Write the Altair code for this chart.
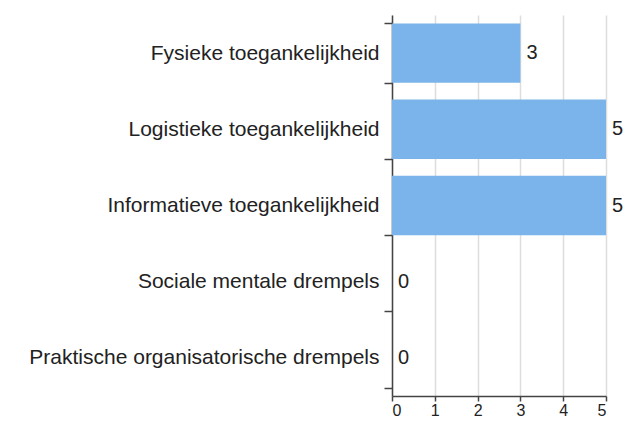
import altair as alt
import pandas as pd

categories = [
    "Fysieke toegankelijkheid",
    "Logistieke toegankelijkheid",
    "Informatieve toegankelijkheid",
    "Sociale mentale drempels",
    "Praktische organisatorische drempels",
]
values = [3, 5, 5, 0, 0]

df = pd.DataFrame({"categorie": categories, "aantal": values})

y_enc = alt.Y(
    "categorie:N",
    sort=categories,
    title=None,
    scale=alt.Scale(paddingInner=0.22, paddingOuter=0.11),
    axis=alt.Axis(
        tickBand="extent",
        tickSize=8,
        labelPadding=5,
        labelFontSize=21,
        labelFont="Liberation Sans",
        labelColor="#222222",
        labelLimit=500,
        domainColor="#444444",
        domainWidth=1.5,
        tickColor="#444444",
        tickWidth=1.5,
        grid=False,
    ),
)

x_enc = alt.X(
    "aantal:Q",
    title=None,
    scale=alt.Scale(domain=[0, 5], nice=False),
    axis=alt.Axis(
        values=[0, 1, 2, 3, 4, 5],
        tickSize=5,
        labelPadding=1,
        labelFontSize=16,
        labelFont="Liberation Sans",
        labelColor="#222222",
        domainColor="#444444",
        domainWidth=1.5,
        tickColor="#444444",
        tickWidth=1.5,
        grid=True,
        gridColor="#dddddd",
        gridWidth=1.5,
    ),
)

bars = alt.Chart(df).mark_bar(color="#7ab4ea").encode(x=x_enc, y=y_enc)

labels = alt.Chart(df).mark_text(
    align="left", baseline="middle", dx=6, fontSize=20, font="Liberation Sans", color="#222222"
).encode(
    x=alt.X("aantal:Q"),
    y=alt.Y("categorie:N", sort=categories),
    text="aantal:Q",
)

chart = (
    alt.layer(bars, labels)
    .properties(
        width=214,
        height=381,
        autosize=alt.AutoSizeParams(type="none"),
        padding={"left": 384, "top": 7, "right": 18, "bottom": 27},
    )
    .configure_view(stroke=None)
)

chart.save("out.html", embed_options={"renderer": "svg", "actions": False})
